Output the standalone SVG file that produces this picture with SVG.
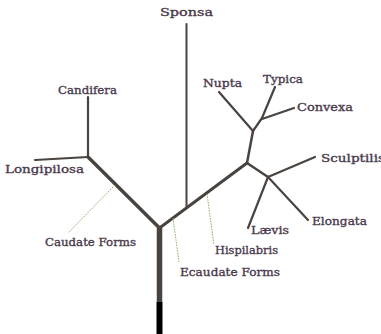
<svg xmlns="http://www.w3.org/2000/svg" width="381" height="334" viewBox="0 0 381 334">
<style>
.br{stroke:#4a4440;fill:none;stroke-linecap:round;stroke-linejoin:round}
.lead{stroke:#98a860;stroke-width:1;fill:none;stroke-dasharray:1.5 1.2}
text{font-family:"DejaVu Serif","Liberation Serif",serif;font-size:11.5px;fill:#4a3a4c;stroke:#4a3a4c;stroke-width:0.35}
</style>
<rect width="381" height="334" fill="#ffffff"/>
<g id="connectors">
<line class="br" x1="159.5" y1="302" x2="159.5" y2="228" style="stroke-width:5.5;stroke-linecap:butt"/>
<line x1="159.5" y1="302" x2="159.5" y2="334" stroke="#000" stroke-width="6"/>
<path class="br" d="M159.5,228 L88,157" style="stroke-width:3.5"/>
<path class="br" d="M159.5,228 L247,163" style="stroke-width:3"/>
<path class="br" d="M88,157 L88,97" style="stroke-width:2.2"/>
<path class="br" d="M88,157 L35,160" style="stroke-width:2.2"/>
<path class="br" d="M186.5,208 L186.5,24" style="stroke-width:2"/>
<path class="br" d="M247,163 L253,131" style="stroke-width:2.5"/>
<path class="br" d="M253,131 L219,92" style="stroke-width:2.2"/>
<path class="br" d="M253,131 L262,118 L275,87" style="stroke-width:2.2"/>
<path class="br" d="M262,119 L294,108" style="stroke-width:2.2"/>
<path class="br" d="M247,163 L268,177" style="stroke-width:2.5"/>
<path class="br" d="M268,177 L315,157" style="stroke-width:2.2"/>
<path class="br" d="M268,177 L248,228" style="stroke-width:2.2"/>
<path class="br" d="M268,177 L308,220" style="stroke-width:2.2"/>
<path class="lead" d="M115,185 L68,233"/>
<path class="lead" d="M173,218 L179,262"/>
<path class="lead" d="M207,194 L214,245"/>
</g>
<g id="sponsa"><text x="160" y="16" textLength="53" lengthAdjust="spacingAndGlyphs">Sponsa</text></g>
<g id="candifera"><text x="58" y="94" textLength="59" lengthAdjust="spacingAndGlyphs">Candifera</text></g>
<g id="longipilosa"><text x="5" y="173" textLength="79" lengthAdjust="spacingAndGlyphs">Longipilosa</text></g>
<g id="nupta"><text x="203" y="87" textLength="39" lengthAdjust="spacingAndGlyphs">Nupta</text></g>
<g id="typica"><text x="263" y="83" textLength="40" lengthAdjust="spacingAndGlyphs">Typica</text></g>
<g id="convexa"><text x="297" y="111" textLength="56" lengthAdjust="spacingAndGlyphs">Convexa</text></g>
<g id="sculptilis"><text x="321" y="162" textLength="64" lengthAdjust="spacingAndGlyphs">Sculptilis</text></g>
<g id="laevis"><text x="251" y="234" textLength="38" lengthAdjust="spacingAndGlyphs">Lævis</text></g>
<g id="elongata"><text x="312" y="225" textLength="55" lengthAdjust="spacingAndGlyphs">Elongata</text></g>
<g id="hispilabris"><text x="215" y="254" textLength="63" lengthAdjust="spacingAndGlyphs">Hispilabris</text></g>
<g id="ecaudate"><text x="180" y="276" textLength="100" lengthAdjust="spacingAndGlyphs">Ecaudate Forms</text></g>
<g id="caudate"><text x="45" y="246" textLength="91" lengthAdjust="spacingAndGlyphs">Caudate Forms</text></g>
</svg>
